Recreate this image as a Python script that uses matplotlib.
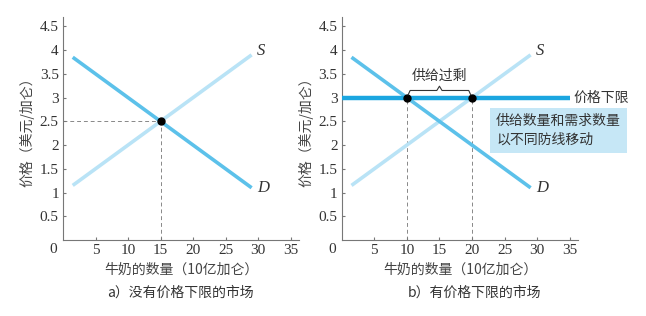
import matplotlib
matplotlib.use("Agg")
import matplotlib.pyplot as plt
import numpy as np

plt.rcParams['font.family'] = ['Noto Sans CJK SC', 'DejaVu Sans']

# data
q_line = [1.5, 29]                # range of supply / demand curves
demand = [3.85, 1.1]              # D: P = 4 - 0.1Q
supply = [1.15, 3.9]              # S: P = 1 + 0.1Q
eq_q, eq_p = 15, 2.5
floor_p = 3
floor_q = [0, 35]
qd_floor, qs_floor = 10, 20
xticks = [5, 10, 15, 20, 25, 30, 35]
yticks = [0.5, 1, 1.5, 2, 2.5, 3, 3.5, 4, 4.5]

c_d = '#5cc1ea'
c_s = '#b9e3f6'
c_floor = '#1ba6e0'
c_axis = '#777777'
num_font = 'Liberation Serif'


def style_axes(ax):
    ax.set_xlim(0, 36.3)
    ax.set_ylim(0, 4.7)
    for s in ['top', 'right']:
        ax.spines[s].set_visible(False)
    for s in ['left', 'bottom']:
        ax.spines[s].set_color(c_axis)
        ax.spines[s].set_linewidth(0.8)
    ax.set_xticks(xticks)
    ax.set_yticks(yticks)
    ax.set_xticklabels([str(t) for t in xticks], family=num_font, fontsize=11)
    ax.set_yticklabels([f'{t:g}' for t in yticks], family=num_font, fontsize=11)
    ax.tick_params(direction='in', length=2.5, width=0.8, color=c_axis,
                   labelcolor='#333333', pad=3)
    ax.text(-0.9, -0.07, '0', family=num_font, fontsize=11, color='#333333',
            ha='right', va='top', transform=ax.transData)
    ax.set_ylabel('价格（美元/加仑）', fontsize=10, color='#444444', labelpad=4)
    ax.set_xlabel('牛奶的数量（10亿加仑）', fontsize=10, color='#444444', labelpad=4)
    ax.plot(q_line, supply, color=c_s, lw=2.6, solid_capstyle='butt', zorder=2)
    ax.plot(q_line, demand, color=c_d, lw=2.6, solid_capstyle='butt', zorder=3)
    ax.text(q_line[1] + 0.8, supply[1] + 0.08, 'S', family=num_font, style='italic',
            fontsize=12, color='#333333', va='center')
    ax.text(q_line[1] + 0.8, demand[1], 'D', family=num_font, style='italic',
            fontsize=12, color='#333333', va='center')


fig = plt.figure(figsize=(6.46, 3.16), dpi=100)
ax1 = fig.add_axes([0.0975, 0.2405, 0.3655, 0.706])
ax2 = fig.add_axes([0.529, 0.2405, 0.366, 0.706])

# a) no price floor
style_axes(ax1)
ax1.plot([0, eq_q], [eq_p, eq_p], ls=(0, (4, 3)), color='#888888', lw=0.7, zorder=1)
ax1.plot([eq_q, eq_q], [0, eq_p], ls=(0, (4, 3)), color='#888888', lw=0.7, zorder=1)
ax1.plot([eq_q], [eq_p], 'o', color='black', ms=5, zorder=5)
fig.text(0.28, 0.06, 'a）没有价格下限的市场', fontsize=10, color='#333333', ha='center')

# b) price floor
style_axes(ax2)
ax2.plot(floor_q, [floor_p, floor_p], color=c_floor, lw=3.2, solid_capstyle='butt', zorder=4)
for q in [qd_floor, qs_floor]:
    ax2.plot([q, q], [0, floor_p], ls=(0, (4, 3)), color='#888888', lw=0.7, zorder=1)
ax2.plot([qd_floor, qs_floor], [floor_p, floor_p], 'o', color='black', ms=5, zorder=5)

# brace over the surplus
bx0, bx1 = qd_floor + 0.2, qs_floor - 0.2
by = floor_p + 0.06
h = 0.09
mid = (bx0 + bx1) / 2
ax2.plot([bx0, bx0 + 0.3, mid - 0.4, mid, mid + 0.4, bx1 - 0.3, bx1],
         [by, by + h, by + h, by + 2 * h, by + h, by + h, by],
         color='#333333', lw=0.8, zorder=6)
ax2.text(mid, by + 2 * h + 0.08, '供给过剩', fontsize=10, color='#333333',
         ha='center', va='bottom')
ax2.text(35.5, floor_p, '价格下限', fontsize=10, color='#333333', va='center')
fig.text(0.768, 0.588, '供给数量和需求数量\n以不同防线移动', fontsize=10, color='#333333',
         va='center', ha='left', linespacing=1.4,
         bbox=dict(boxstyle='square,pad=0.45', fc='#c6e7f6', ec='none'))
fig.text(0.735, 0.06, 'b）有价格下限的市场', fontsize=10, color='#333333', ha='center')

fig.savefig('out.png', dpi=100)
